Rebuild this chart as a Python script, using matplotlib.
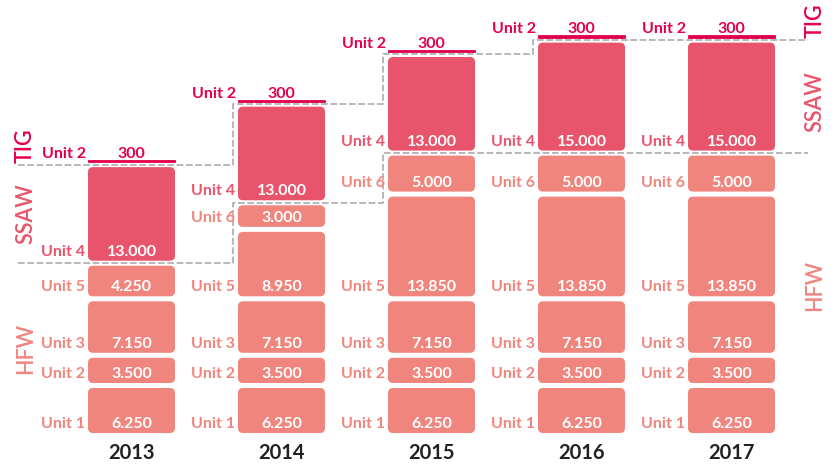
import matplotlib
matplotlib.use("Agg")
import matplotlib.pyplot as plt
from matplotlib.patches import FancyBboxPatch

# ---------------- data ----------------
years = ["2013", "2014", "2015", "2016", "2017"]
hfw_units = ["Unit 1", "Unit 2", "Unit 3", "Unit 5", "Unit 6"]
hfw_unit1 = [6250, 6250, 6250, 6250, 6250]
hfw_unit2 = [3500, 3500, 3500, 3500, 3500]
hfw_unit3 = [7150, 7150, 7150, 7150, 7150]
hfw_unit5 = [4250, 8950, 13850, 13850, 13850]
hfw_unit6 = [0, 3000, 5000, 5000, 5000]
ssaw_unit4 = [13000, 13000, 13000, 15000, 15000]
tig_unit2 = [300, 300, 300, 300, 300]
group_names = ["HFW", "SSAW", "TIG"]

# ---------------- style ----------------
C_HFW = "#F0857E"
C_SSAW = "#E8546C"
C_TIG = "#E3004B"
C_DASH = "#ABABAB"
C_YEAR = "#222222"
FONT = "Lato"

W_PX, H_PX = 839, 468
PX_X = 1 / 150.0          # data units per pixel (x)
PX_Y = 1 / 0.0072         # data units per pixel (y)
GAP = 5 * PX_Y
BOX_W = 87 * PX_X
X0_PX, Y0_PX = 131.5, 433  # pixel position of column 0 / value 0

fig = plt.figure(figsize=(W_PX / 100, H_PX / 100), dpi=100)
ax = fig.add_axes([0, 0, 1, 1])
ax.set_xlim(-X0_PX * PX_X, (W_PX - X0_PX) * PX_X)
ax.set_ylim(-(H_PX - Y0_PX) * PX_Y, Y0_PX * PX_Y)
ax.axis("off")


def fmt(v):
    return f"{v:,}".replace(",", ".")


def rbox(x, y0, h, color):
    p = FancyBboxPatch((x - BOX_W / 2, y0), BOX_W, h,
                       boxstyle=f"round,pad=0,rounding_size={5 * PX_X}",
                       mutation_aspect=PX_Y / PX_X,
                       facecolor=color, edgecolor="none")
    ax.add_patch(p)


hfw_series = [hfw_unit1, hfw_unit2, hfw_unit3, hfw_unit5, hfw_unit6]
lower_bound = []
upper_bound = []
label_kw = dict(fontfamily=FONT, fontweight="bold", fontsize=11.5)

for i, yr in enumerate(years):
    bottom = 0.0
    # HFW
    for name, series in zip(hfw_units, hfw_series):
        v = series[i]
        if v <= 0:
            continue
        rbox(i, bottom, v, C_HFW)
        ax.text(i - BOX_W / 2 - 3 * PX_X, bottom + 5 * PX_Y, name, color=C_HFW,
                ha="right", va="baseline", **label_kw)
        ax.text(i, bottom + 5 * PX_Y, fmt(v), color="white",
                ha="center", va="baseline", **label_kw)
        bottom += v + GAP
    lower_bound.append(bottom - GAP / 2)
    # SSAW
    v = ssaw_unit4[i]
    rbox(i, bottom, v, C_SSAW)
    ax.text(i - BOX_W / 2 - 3 * PX_X, bottom + 5 * PX_Y, "Unit 4", color=C_SSAW,
            ha="right", va="baseline", **label_kw)
    ax.text(i, bottom + 5 * PX_Y, fmt(v), color="white",
            ha="center", va="baseline", **label_kw)
    bottom += v + GAP
    upper_bound.append(bottom - GAP / 2)
    # TIG (thin line)
    v = tig_unit2[i]
    ax.bar(i, v, width=BOX_W, bottom=bottom, color=C_TIG,
           edgecolor=C_TIG, linewidth=0.6)
    ax.text(i - BOX_W / 2 - 2 * PX_X, bottom + v + 2 * PX_Y, "Unit 2", color=C_TIG,
            ha="right", va="baseline", **label_kw)
    ax.text(i, bottom + v + 2 * PX_Y, fmt(v), color=C_TIG,
            ha="center", va="baseline", **label_kw)
    # year
    ax.text(i, -20 * PX_Y, yr, color=C_YEAR, ha="center", va="center",
            fontfamily=FONT, fontweight="bold", fontsize=14.5)

# dashed step boundaries
x_left = -0.757
x_right = 4.51
step_off = BOX_W / 2 + 5 * PX_X


def step_line(vals):
    xs, ys = [x_left], [vals[0]]
    for j in range(1, len(vals)):
        xs += [j - step_off, j - step_off]
        ys += [vals[j - 1], vals[j]]
    xs.append(x_right)
    ys.append(vals[-1])
    ax.plot(xs, ys, color=C_DASH, lw=1.2, linestyle=(0, (4, 1.6)),
            solid_capstyle="butt", zorder=0)


step_line(lower_bound)
step_line(upper_bound)

# group labels
side_kw = dict(fontfamily=FONT, fontweight="semibold", fontsize=15.5, rotation=90)
xl = -106 * PX_X
xr = (815 - X0_PX) * PX_X
ax.text(xl, lower_bound[0] / 2, "HFW", color=C_HFW, ha="center", va="center", **side_kw)
ax.text(xl, (lower_bound[0] + upper_bound[0]) / 2, "SSAW", color=C_SSAW,
        ha="center", va="center", **side_kw)
ax.text(xl, upper_bound[0] + 2 * PX_Y, "TIG", color=C_TIG, ha="center", va="bottom", **side_kw)
ax.text(xr, lower_bound[-1] / 2 + 8 * PX_Y, "HFW", color=C_HFW, ha="center", va="center", **side_kw)
ax.text(xr, (lower_bound[-1] + upper_bound[-1]) / 2 - 5 * PX_Y, "SSAW", color=C_SSAW,
        ha="center", va="center", **side_kw)
ax.text(xr, upper_bound[-1] + 2 * PX_Y, "TIG", color=C_TIG, ha="center", va="bottom", **side_kw)

fig.savefig("out.png", dpi=100)
